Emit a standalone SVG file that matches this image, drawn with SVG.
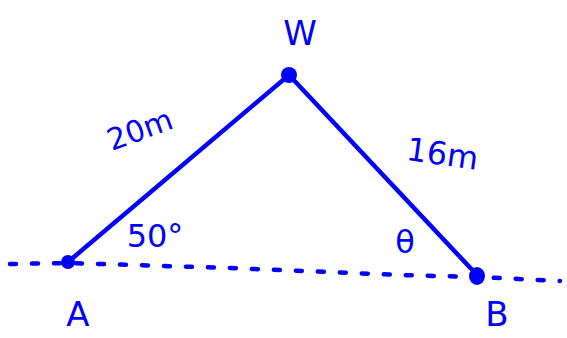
<svg xmlns="http://www.w3.org/2000/svg" width="567" height="338" viewBox="0 0 567 338">
<style>
.ln{stroke:#0000ff;stroke-width:4.5;stroke-linecap:round;fill:none}
.dash{stroke:#0000ff;stroke-width:4.5;stroke-linecap:round;fill:none;stroke-dasharray:6 16}
.pt{fill:#0000ff}
.t{fill:#0000ff;font-family:"DejaVu Sans","Liberation Sans",sans-serif}
</style>
<rect width="567" height="338" fill="#ffffff"/>
<g id="connectors">
<path class="dash" d="M10,264 L68,263 L230,268 L400,275 L477,277 L560,281"/>
<path class="ln" d="M68,262 L289,75"/>
<path class="ln" d="M289,75 L477,275"/>
</g>
<g id="node-W">
<circle class="pt" cx="289" cy="75" r="8"/>
<text class="t" x="300" y="45" font-size="34" text-anchor="middle">W</text>
</g>
<g id="node-A">
<circle class="pt" cx="68" cy="262" r="7"/>
<text class="t" x="78" y="326" font-size="34" text-anchor="middle">A</text>
</g>
<g id="node-B">
<ellipse class="pt" cx="477" cy="276" rx="8" ry="9"/>
<text class="t" x="497" y="326" font-size="34" text-anchor="middle">B</text>
</g>
<g id="labels">
<text class="t" x="140" y="140" font-size="30" text-anchor="middle" transform="rotate(-20 140 130)">20m</text>
<text class="t" x="443" y="165" font-size="32" text-anchor="middle" transform="rotate(8 443 150)">16m</text>
<text class="t" x="155" y="247" font-size="32" text-anchor="middle">50°</text>
<text class="t" x="405" y="253" font-size="32" text-anchor="middle">θ</text>
</g>
</svg>
